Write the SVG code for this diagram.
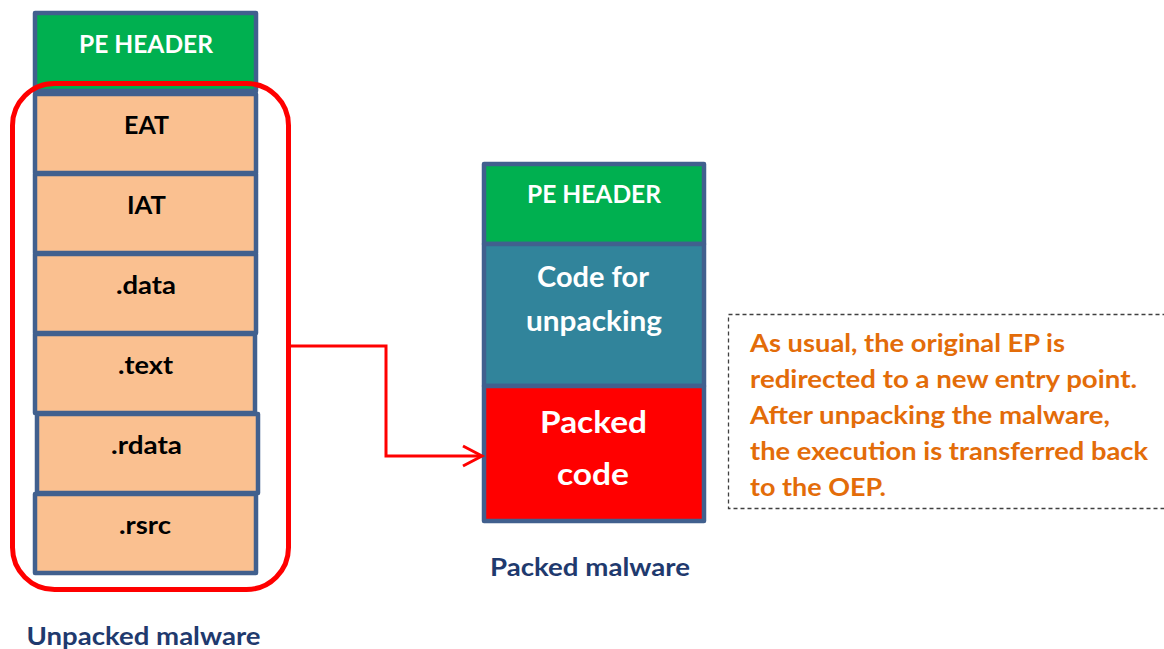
<svg xmlns="http://www.w3.org/2000/svg" width="1164" height="649" viewBox="0 0 1164 649">
<style>
.box{stroke:#41608E;stroke-width:4.5;stroke-linejoin:round}
.hdr{fill:#00B050}
.sec{fill:#FAC090}
.t{font-family:Lato,"Open Sans","Liberation Sans",sans-serif;font-weight:bold;text-anchor:middle}
.w{fill:#FFFFFF}
.k{fill:#000000;font-size:24px}
.cap{fill:#1F3A6E;font-size:24px}
.note{font-family:Lato,"Open Sans","Liberation Sans",sans-serif;font-weight:bold;font-size:24px;fill:#E36C09}
.conn{fill:none;stroke:#FF0000;stroke-width:3;stroke-linejoin:miter}
</style>
<rect width="1164" height="649" fill="#FFFFFF"/>
<g id="unpacked">
  <g id="u-pe"><rect class="box hdr" x="35" y="13" width="221" height="78"/><text class="t w" x="146" y="53" font-size="24" textLength="134" lengthAdjust="spacingAndGlyphs">PE HEADER</text></g>
  <g id="u-eat"><rect class="box sec" x="35" y="94" width="221" height="79"/><text class="t k" x="146.5" y="134" textLength="45" lengthAdjust="spacingAndGlyphs">EAT</text></g>
  <g id="u-iat"><rect class="box sec" x="35" y="174" width="221" height="79"/><text class="t k" x="146.5" y="214" textLength="39" lengthAdjust="spacingAndGlyphs">IAT</text></g>
  <g id="u-data"><rect class="box sec" x="35" y="254" width="221" height="79"/><text class="t k" x="146" y="294" textLength="60" lengthAdjust="spacingAndGlyphs">.data</text></g>
  <g id="u-text"><rect class="box sec" x="35" y="334" width="220" height="79"/><text class="t k" x="145.5" y="374" textLength="55" lengthAdjust="spacingAndGlyphs">.text</text></g>
  <g id="u-rdata"><rect class="box sec" x="37" y="414" width="221" height="79"/><text class="t k" x="146.5" y="454" textLength="71" lengthAdjust="spacingAndGlyphs">.rdata</text></g>
  <g id="u-rsrc"><rect class="box sec" x="35" y="494" width="221" height="79"/><text class="t k" x="145" y="534" textLength="52" lengthAdjust="spacingAndGlyphs">.rsrc</text></g>
  <g id="u-highlight"><rect x="12.5" y="83.5" width="276" height="506" rx="42" ry="42" fill="none" stroke="#FF0000" stroke-width="5"/></g>
  <g id="u-label"><text class="t cap" x="143.5" y="645" textLength="234" lengthAdjust="spacingAndGlyphs">Unpacked malware</text></g>
</g>
<g id="packed">
  <g id="p-pe"><rect class="box hdr" x="484" y="164" width="220" height="80"/><text class="t w" x="594" y="203" font-size="24" textLength="134" lengthAdjust="spacingAndGlyphs">PE HEADER</text></g>
  <g id="p-unpack"><rect class="box" fill="#31849B" x="484" y="244" width="220" height="142"/><text class="t w" x="593" y="287" font-size="28" textLength="112" lengthAdjust="spacingAndGlyphs">Code for</text><text class="t w" x="594" y="331" font-size="28" textLength="136" lengthAdjust="spacingAndGlyphs">unpacking</text></g>
  <g id="p-packed"><rect class="box" fill="#FF0000" x="484" y="386" width="220" height="135"/><text class="t w" x="593.5" y="433" font-size="31" textLength="107" lengthAdjust="spacingAndGlyphs">Packed</text><text class="t w" x="593" y="485" font-size="31" textLength="72" lengthAdjust="spacingAndGlyphs">code</text></g>
  <g id="p-label"><text class="t cap" x="590" y="576" textLength="200" lengthAdjust="spacingAndGlyphs">Packed malware</text></g>
</g>
<g id="connectors">
  <polyline class="conn" points="290,346 386,346 386,456 481,456"/>
  <polyline class="conn" points="463,446 482,456 463,466"/>
</g>
<g id="note">
  <rect x="728.5" y="314.5" width="450" height="194" fill="none" stroke="#404040" stroke-width="1.3" stroke-dasharray="4,3"/>
  <text class="note" x="750" y="352" textLength="315" lengthAdjust="spacingAndGlyphs">As usual, the original EP is</text>
  <text class="note" x="750" y="388" textLength="387" lengthAdjust="spacingAndGlyphs">redirected to a new entry point.</text>
  <text class="note" x="750" y="424" textLength="360" lengthAdjust="spacingAndGlyphs">After unpacking the malware,</text>
  <text class="note" x="750" y="460" textLength="398" lengthAdjust="spacingAndGlyphs">the execution is transferred back</text>
  <text class="note" x="750" y="496" textLength="136" lengthAdjust="spacingAndGlyphs">to the OEP.</text>
</g>
</svg>
